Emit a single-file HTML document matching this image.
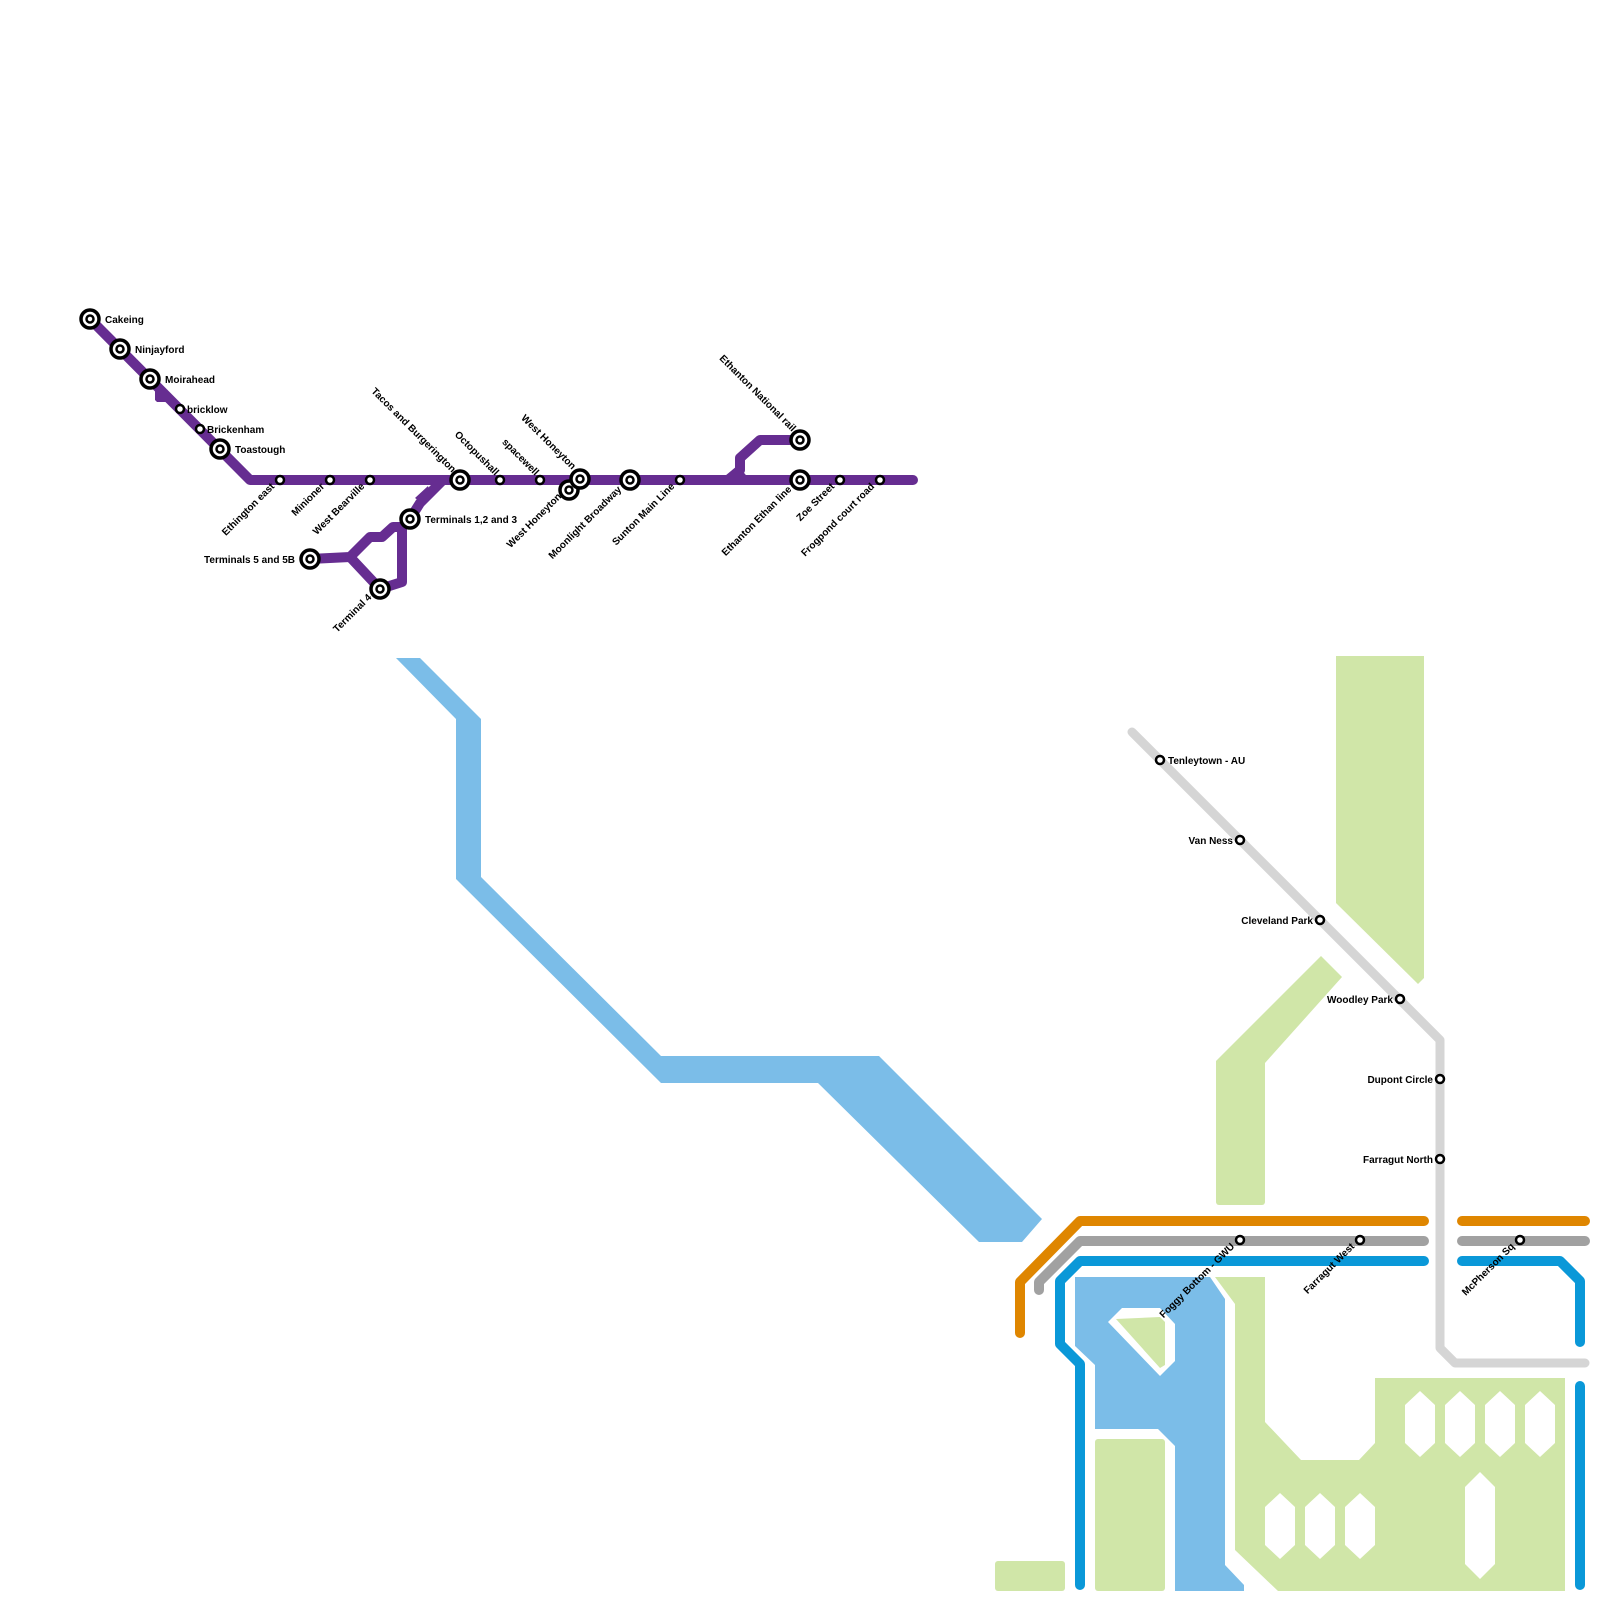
<!DOCTYPE html>
<html><head><meta charset="utf-8"><style>
html,body{margin:0;padding:0;background:#fff;}
svg{display:block;}
text{font-family:"Liberation Sans",sans-serif;font-size:10px;font-weight:bold;fill:#000;}
</style></head><body>
<svg width="1600" height="1600" viewBox="0 0 1600 1600" xmlns="http://www.w3.org/2000/svg">
<!-- river -->
<polygon fill="#7bbde8" points="396,658 420,658 481,719 481,877 661,1056 879,1056 1042,1219 1022,1242 979,1242 818,1083 661,1083 456,879 456,719"/>
<!-- green parks right -->
<g fill="#d0e6a8">
<polygon points="1336,656 1424,656 1424,978 1418,984 1336,903"/>
<polygon points="1216,1061 1321,956 1342,977 1265,1063 1265,1202 1216,1202"/>
<rect x="1216" y="1180" width="49" height="25" rx="3"/>
<rect x="995" y="1561" width="70" height="30" rx="3"/>
<rect x="1095" y="1439" width="70" height="152" rx="3"/>
<polygon points="1215,1277 1265,1277 1265,1422 1301,1460 1359,1460 1375,1443 1375,1378 1565,1378 1565,1591 1278,1591 1235,1550 1235,1304"/>
</g>
<g fill="#fff">
<polygon points="1420,1391 1435,1405 1435,1443 1420,1457 1405,1443 1405,1405"/>
<polygon points="1460,1391 1475,1405 1475,1443 1460,1457 1445,1443 1445,1405"/>
<polygon points="1500,1391 1515,1405 1515,1443 1500,1457 1485,1443 1485,1405"/>
<polygon points="1540,1391 1555,1405 1555,1443 1540,1457 1525,1443 1525,1405"/>
<polygon points="1280,1493 1295,1507 1295,1545 1280,1559 1265,1545 1265,1507"/>
<polygon points="1320,1493 1335,1507 1335,1545 1320,1559 1305,1545 1305,1507"/>
<polygon points="1360,1493 1375,1507 1375,1545 1360,1559 1345,1545 1345,1507"/>
<polygon points="1480,1472 1495,1487 1495,1564 1480,1579 1465,1564 1465,1487"/>
</g>
<!-- lower river -->
<polygon fill="#7bbde8" points="1075,1277 1210,1277 1225,1299 1225,1565 1244,1585 1244,1591 1175,1591 1175,1446 1158,1429 1095,1429 1095,1365 1075,1346"/>
<polygon fill="#fff" points="1108,1322 1122,1308 1160,1308 1175,1324 1175,1361 1160,1376"/>
<polygon fill="#d0e6a8" points="1116,1319 1160,1317 1165,1322 1165,1365 1160,1368"/>
<!-- light gray line -->
<polyline fill="none" stroke="#d5d5d5" stroke-width="9" stroke-linecap="round" stroke-linejoin="round" points="1132,732 1440,1040 1440,1348 1455,1363 1585,1363"/>
<!-- orange, gray, blue -->
<g fill="none" stroke-width="10" stroke-linecap="round" stroke-linejoin="round">
<polyline stroke="#df8600" points="1424,1221 1080,1221 1020,1282 1020,1333"/>
<line stroke="#df8600" x1="1462" y1="1221" x2="1585" y2="1221"/>
<polyline stroke="#a1a1a1" points="1424,1241 1080,1241 1039,1282 1039,1290"/>
<line stroke="#a1a1a1" x1="1462" y1="1241" x2="1585" y2="1241"/>
<polyline stroke="#0a98d8" points="1424,1261 1080,1261 1060,1281 1060,1344 1080,1364 1080,1585"/>
<polyline stroke="#0a98d8" points="1462,1261 1560,1261 1580,1281 1580,1342"/>
<line stroke="#0a98d8" x1="1580" y1="1386" x2="1580" y2="1585"/>
</g>
<!-- purple -->
<g fill="none" stroke="#662d91" stroke-width="10" stroke-linecap="round" stroke-linejoin="round">
<polyline points="90,319 250,480 913,480"/>
<polyline points="443,480 420,503 410,519 402,527 393,527 382,537 370,537 350,557 310,559"/>
<polyline points="350,557 380,589 402,582 402,527"/>
<polyline points="728,480 740,470 740,458 760,440 800,440"/>
</g>
<polygon fill="#662d91" points="155,383 170,396 170,402 157,402 155,400"/>
<polygon fill="#662d91" points="415,498 428,486 430,493 422,503"/>
<polygon fill="#662d91" points="730,480 740,468 750,480"/>
<!-- stations -->
<g fill="#fff" stroke="#000">
<g stroke-width="3.5">
<circle cx="90" cy="319" r="9"/><circle cx="120" cy="349" r="9"/><circle cx="150" cy="379" r="9"/><circle cx="220" cy="449" r="9"/>
<circle cx="460" cy="480" r="9"/><circle cx="410" cy="519" r="9"/><circle cx="310" cy="559" r="9"/><circle cx="380" cy="589" r="9"/>
<circle cx="569" cy="490" r="9"/><circle cx="580" cy="479" r="9"/><circle cx="630" cy="480" r="9"/><circle cx="800" cy="440" r="9"/><circle cx="800" cy="480" r="9"/>
</g>
<g stroke-width="2.5">
<circle cx="90" cy="319" r="3.5"/><circle cx="120" cy="349" r="3.5"/><circle cx="150" cy="379" r="3.5"/><circle cx="220" cy="449" r="3.5"/>
<circle cx="460" cy="480" r="3.5"/><circle cx="410" cy="519" r="3.5"/><circle cx="310" cy="559" r="3.5"/><circle cx="380" cy="589" r="3.5"/>
<circle cx="569" cy="490" r="3.5"/><circle cx="580" cy="479" r="3.5"/><circle cx="630" cy="480" r="3.5"/><circle cx="800" cy="440" r="3.5"/><circle cx="800" cy="480" r="3.5"/>
<circle cx="180" cy="409" r="4"/><circle cx="200" cy="429" r="4"/><circle cx="280" cy="480" r="4"/><circle cx="330" cy="480" r="4"/><circle cx="370" cy="480" r="4"/>
<circle cx="500" cy="480" r="4"/><circle cx="540" cy="480" r="4"/><circle cx="680" cy="480" r="4"/><circle cx="840" cy="480" r="4"/><circle cx="880" cy="480" r="4"/>
<circle cx="1160" cy="760" r="4"/><circle cx="1240" cy="840" r="4"/><circle cx="1320" cy="920" r="4"/><circle cx="1400" cy="999" r="4"/><circle cx="1440" cy="1079" r="4"/><circle cx="1440" cy="1159" r="4"/>
<circle cx="1240" cy="1240" r="4"/><circle cx="1360" cy="1240" r="4"/><circle cx="1520" cy="1240" r="4"/>
</g>
</g>
<!-- horizontal labels -->
<text x="105" y="323">Cakeing</text>
<text x="135" y="353">Ninjayford</text>
<text x="165" y="383">Moirahead</text>
<text x="187" y="413">bricklow</text>
<text x="207" y="433">Brickenham</text>
<text x="235" y="453">Toastough</text>
<text x="425" y="523">Terminals 1,2 and 3</text>
<text x="295" y="563" text-anchor="end">Terminals 5 and 5B</text>
<text x="1168" y="764">Tenleytown - AU</text>
<text x="1233" y="844" text-anchor="end">Van Ness</text>
<text x="1313" y="924" text-anchor="end">Cleveland Park</text>
<text x="1393" y="1003" text-anchor="end">Woodley Park</text>
<text x="1433" y="1083" text-anchor="end">Dupont Circle</text>
<text x="1433" y="1163" text-anchor="end">Farragut North</text>
<!-- rotated down-left labels -->
<g text-anchor="end">
<text transform="translate(275,487) rotate(-45)">Ethington east</text>
<text transform="translate(325,487) rotate(-45)">Minioner</text>
<text transform="translate(365,487) rotate(-45)">West Bearville</text>
<text transform="translate(562,497) rotate(-45)">West Honeyton</text>
<text transform="translate(622,490) rotate(-45)">Moonlight Broadway</text>
<text transform="translate(675,487) rotate(-45)">Sunton Main Line</text>
<text transform="translate(792,490) rotate(-45)">Ethanton Ethan line</text>
<text transform="translate(835,487) rotate(-45)">Zoe Street</text>
<text transform="translate(875,487) rotate(-45)">Frogpond court road</text>
<text transform="translate(372,598) rotate(-45)">Terminal 4</text>
<text transform="translate(1235,1247) rotate(-45)">Foggy Bottom - GWU</text>
<text transform="translate(1355,1247) rotate(-45)">Farragut West</text>
<text transform="translate(1515,1247) rotate(-45)">McPherson Sq</text>
<!-- rotated up-left labels -->
<text transform="translate(452,473) rotate(45)">Tacos and Burgerington</text>
<text transform="translate(495,476) rotate(45)">Octopushall</text>
<text transform="translate(535,476) rotate(45)">spacewell</text>
<text transform="translate(572,470) rotate(45)">West Honeyton</text>
<text transform="translate(792,432) rotate(45)">Ethanton National rail</text>
</g>
</svg>
</body></html>
